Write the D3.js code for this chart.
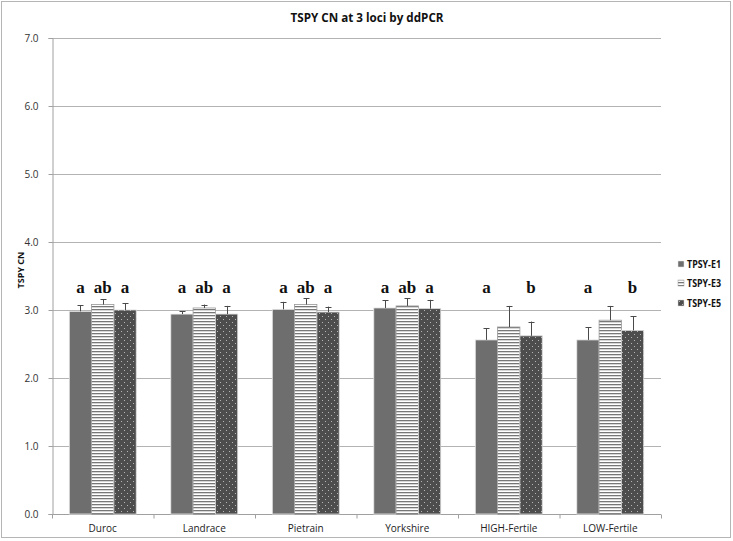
<!DOCTYPE html>
<html><head><meta charset="utf-8">
<script src="https://cdn.jsdelivr.net/npm/d3@7"></script>
<style>body{margin:0;background:#fff}svg{display:block}</style>
</head><body>
<script>
const categories = ["Duroc","Landrace","Pietrain","Yorkshire","HIGH-Fertile","LOW-Fertile"];
const series = ["TPSY-E1","TSPY-E3","TSPY-E5"];
const valuesE1 = [2.98, 2.94, 3.01, 3.03, 2.56, 2.56];
const valuesE3 = [3.08, 3.03, 3.08, 3.06, 2.75, 2.85];
const valuesE5 = [3.00, 2.94, 2.97, 3.02, 2.62, 2.70];
const errE1 = [0.09, 0.04, 0.11, 0.11, 0.17, 0.19];
const errE3 = [0.08, 0.05, 0.09, 0.11, 0.31, 0.21];
const errE5 = [0.10, 0.12, 0.08, 0.13, 0.21, 0.21];
const lettersE1 = ["a","a","a","a","a","a"];
const lettersE3 = ["ab","ab","ab","ab","",""];
const lettersE5 = ["a","a","a","a","b","b"];
const yTicks = [0,1,2,3,4,5,6,7];
const letterLevel = 3.25;

(function(){
const W = 733, H = 541;
const svg = d3.select("body").append("svg").attr("width", W).attr("height", H);
const defs = svg.append("defs");
const ps = defs.append("pattern").attr("id","stripes").attr("patternUnits","userSpaceOnUse")
  .attr("width",4).attr("height",3);
ps.append("rect").attr("width",4).attr("height",3).attr("fill","#fff");
ps.append("rect").attr("y",0).attr("width",4).attr("height",1.3).attr("fill","#777");
const pd = defs.append("pattern").attr("id","dots").attr("patternUnits","userSpaceOnUse")
  .attr("width",6).attr("height",6);
pd.append("rect").attr("width",6).attr("height",6).attr("fill","#4d4d4d");
pd.append("rect").attr("x",1).attr("y",1).attr("width",1).attr("height",1).attr("fill","#b5b5b5");
pd.append("rect").attr("x",4).attr("y",4).attr("width",1).attr("height",1).attr("fill","#b5b5b5");

const fills = ["#6e6e6e","url(#stripes)","url(#dots)"];
const strokes = ["#e8e8e8","#9a9a9a","#d8d8d8"];

svg.append("rect").attr("x",1.5).attr("y",1.5).attr("width",729).attr("height",536)
  .attr("fill","none").attr("stroke","#b5b5b5").attr("stroke-width",1);

const mLeft = 52, mRight = 661, mTop = 38, mBottom = 514;
const x = d3.scaleBand().domain(categories).range([mLeft,mRight]).paddingInner(0).paddingOuter(0);
const xs = d3.scaleBand().domain(series).range([0,x.bandwidth()]).paddingInner(0).paddingOuter(0.775);
const y = d3.scaleLinear().domain([0,7]).range([mBottom,mTop]);

svg.append("g").selectAll("line").data(yTicks.filter(d=>d>0)).join("line")
  .attr("x1",mLeft).attr("x2",mRight).attr("y1",d=>y(d)+0.5).attr("y2",d=>y(d)+0.5)
  .attr("stroke","#b3b3b3").attr("stroke-width",1);

const yAxis = svg.append("g").attr("transform",`translate(${mLeft+0.5},0)`)
  .call(d3.axisLeft(y).tickValues(yTicks).tickFormat(d3.format(".1f")).tickSize(4).tickPadding(10));
yAxis.select(".domain").attr("stroke","#a0a0a0");
yAxis.selectAll(".tick line").attr("stroke","#a0a0a0");
yAxis.selectAll("text").attr("font-family","'Open Sans', 'Liberation Sans', sans-serif").attr("font-size",10).attr("fill","#333");

const xg = svg.append("g").attr("transform",`translate(0,${mBottom+0.5})`);
xg.append("line").attr("x1",mLeft).attr("x2",mRight).attr("stroke","#a0a0a0");
const bounds = categories.map(c=>x(c)).concat([mRight]);
xg.selectAll("line.tk").data(bounds).join("line").attr("class","tk")
  .attr("x1",d=>d+0.5).attr("x2",d=>d+0.5).attr("y1",0).attr("y2",4).attr("stroke","#a0a0a0");
xg.selectAll("text").data(categories).join("text")
  .attr("x",d=>x(d)+x.bandwidth()/2).attr("y",17).attr("text-anchor","middle")
  .attr("font-family","'Open Sans', 'Liberation Sans', sans-serif").attr("font-size",10).attr("fill","#222")
  .text(d=>d);

const vals = [valuesE1, valuesE3, valuesE5];
const errs = [errE1, errE3, errE5];
const lets = [lettersE1, lettersE3, lettersE5];
const rows = [];
categories.forEach((c,i)=>series.forEach((s,j)=>rows.push({c,s,j,v:vals[j][i],e:errs[j][i],l:lets[j][i]})));

svg.append("g").selectAll("rect").data(rows).join("rect")
  .attr("x",d=>x(d.c)+xs(d.s)).attr("width",xs.bandwidth())
  .attr("y",d=>y(d.v)).attr("height",d=>y(0)-y(d.v))
  .attr("fill",d=>fills[d.j]).attr("stroke",d=>strokes[d.j]).attr("stroke-width",0.8);

const eg = svg.append("g").attr("stroke","#4a4a4a").attr("stroke-width",1);
rows.forEach(d=>{
  const cx = Math.round(x(d.c)+xs(d.s)+xs.bandwidth()/2)+0.5;
  eg.append("line").attr("x1",cx).attr("x2",cx).attr("y1",y(d.v)).attr("y2",y(d.v+d.e));
  eg.append("line").attr("x1",cx-3).attr("x2",cx+3).attr("y1",Math.round(y(d.v+d.e))+0.5).attr("y2",Math.round(y(d.v+d.e))+0.5);
});

svg.append("g").selectAll("text").data(rows.filter(d=>d.l)).join("text")
  .attr("x",d=>x(d.c)+xs(d.s)+xs.bandwidth()/2).attr("y",y(letterLevel))
  .attr("text-anchor","middle").attr("font-family","'Liberation Serif','DejaVu Serif',serif")
  .attr("font-weight","bold").attr("font-size",17).attr("fill","#111").text(d=>d.l);

svg.append("text").attr("x",367).attr("y",22).attr("text-anchor","middle")
  .attr("font-family","'Open Sans','Liberation Sans',sans-serif").attr("font-weight","bold")
  .attr("font-size",12).attr("textLength",153).attr("lengthAdjust","spacingAndGlyphs")
  .attr("fill","#111").text("TSPY CN at 3 loci by ddPCR");

svg.append("text").attr("transform","translate(24,270) rotate(-90)").attr("text-anchor","middle")
  .attr("font-family","'Open Sans','Liberation Sans',sans-serif").attr("font-weight","bold")
  .attr("font-size",9).attr("fill","#111").text("TSPY CN");

const lg = svg.append("g");
const legY = [264, 283, 303];
series.forEach((s,j)=>{
  lg.append("rect").attr("x",678).attr("y",legY[j]-3).attr("width",6).attr("height",6)
    .attr("fill",fills[j]).attr("stroke",strokes[j]).attr("stroke-width",0.5);
  lg.append("text").attr("x",687).attr("y",legY[j]+3.5)
    .attr("font-family","'Open Sans','Liberation Sans',sans-serif").attr("font-weight","bold")
    .attr("font-size",10).attr("textLength",34).attr("lengthAdjust","spacingAndGlyphs")
    .attr("fill","#111").text(s);
});
})();
</script>
</body></html>
